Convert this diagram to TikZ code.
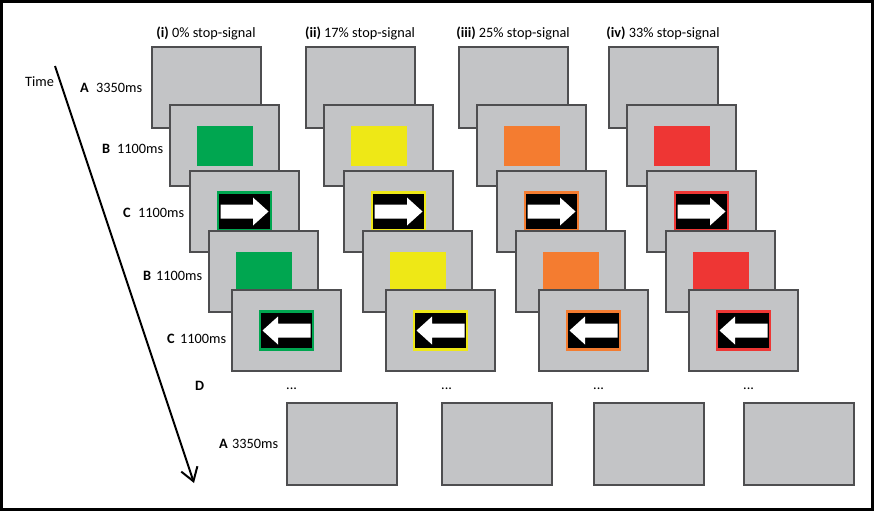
\documentclass[tikz,border=0pt]{standalone}
\usepackage{fontspec}
\setmainfont{Carlito}
\usetikzlibrary{arrows.meta}
\definecolor{scrfill}{RGB}{195,196,198}
\definecolor{scrdraw}{RGB}{78,78,80}
\definecolor{sgreen}{RGB}{0,166,80}
\definecolor{syellow}{RGB}{238,232,22}
\definecolor{sorange}{RGB}{244,124,48}
\definecolor{sred}{RGB}{238,54,52}
\begin{document}
\begin{tikzpicture}[x=1pt,y=-1pt,
  screen/.style={draw=scrdraw, line width=1.3pt, fill=scrfill, minimum width=109pt, minimum height=81pt, inner sep=0pt, outer sep=0pt, anchor=north west},
  stim/.style={minimum width=56pt, minimum height=40pt, inner sep=0pt, outer sep=0pt},
  probe/.style={fill=black, draw=#1, line width=2.2pt, minimum width=53pt, minimum height=38pt, inner sep=0pt, outer sep=0pt},
  lbl/.style={inner sep=0pt, anchor=west, font=\fontsize{14.3}{17}\selectfont},
  timearrow/.style={line width=2pt, -{Straight Barb[length=13pt, width=17pt, line width=2pt]}}]
\useasboundingbox (0,0) rectangle (875,511);
\draw[line width=2.5pt] (1.5,1.5) rectangle (872.5,509.5);

% time arrow
\node[lbl] (time) at (25,82) {Time};
\coordinate (t0) at (55,66);
\coordinate (t1) at (194,483);
\draw[timearrow] (t0) -- (t1);

% row labels
\node[lbl] (lA) at (80,88) {\textbf{A}};
\node[lbl] (nA) at (96,88) {3350ms};
\node[lbl] (lB) at (102,149) {\textbf{B}};
\node[lbl] (nB) at (117,149) {1100ms};
\node[lbl] (lC) at (123,213) {\textbf{C}};
\node[lbl] (nC) at (138,213) {1100ms};
\node[lbl] (lB2) at (143,276) {\textbf{B}};
\node[lbl] (nB2) at (156,276) {1100ms};
\node[lbl] (lC2) at (167,339) {\textbf{C}};
\node[lbl] (nC2) at (180,339) {1100ms};
\node[lbl] (lD) at (195,386) {\textbf{D}};
\node[lbl] (lAf) at (219,444) {\textbf{A}};
\node[lbl] (nAf) at (232,444) {3350ms};

\foreach \i/\x/\c/\bx/\hd in {
  1/152/sgreen/287/{\textbf{(i)} 0\% stop-signal},
  2/306/syellow/442/{\textbf{(ii)} 17\% stop-signal},
  3/459/sorange/594/{\textbf{(iii)} 25\% stop-signal},
  4/609/sred/744/{\textbf{(iv)} 33\% stop-signal}}{
  \node[lbl, anchor=center] (H\i) at (\x+54,33) {\hd};
  \node[screen] (A\i) at (\x,47) {};
  \node[screen] (B\i) at (\x+18,105) {};
  \node[stim, fill=\c] (Bs\i) at (B\i.center) {};
  \node[screen] (C\i) at (\x+38,171) {};
  \node[probe=\c] (Cs\i) at (C\i.center) {};
  \fill[white, shift={(Cs\i.north west)}] (2.5,12) -- (35,12) -- (35,5) -- (50.5,19) -- (35,33) -- (35,26) -- (2.5,26) -- cycle;
  \node[screen] (Bb\i) at (\x+57,231) {};
  \node[stim, fill=\c] (Bbs\i) at (Bb\i.center) {};
  \node[screen] (Cc\i) at (\x+80,290) {};
  \node[probe=\c] (Ccs\i) at (Cc\i.center) {};
  \fill[white, shift={(Ccs\i.north west)}] (50.5,12) -- (18,12) -- (18,5) -- (2.5,19) -- (18,33) -- (18,26) -- (50.5,26) -- cycle;
  \node[lbl, anchor=base west] (D\i) at (\bx-1,389.5) {...};
  \node[screen, minimum width=110pt, minimum height=82pt] (Af\i) at (\bx,403) {};
}
\end{tikzpicture}
\end{document}
